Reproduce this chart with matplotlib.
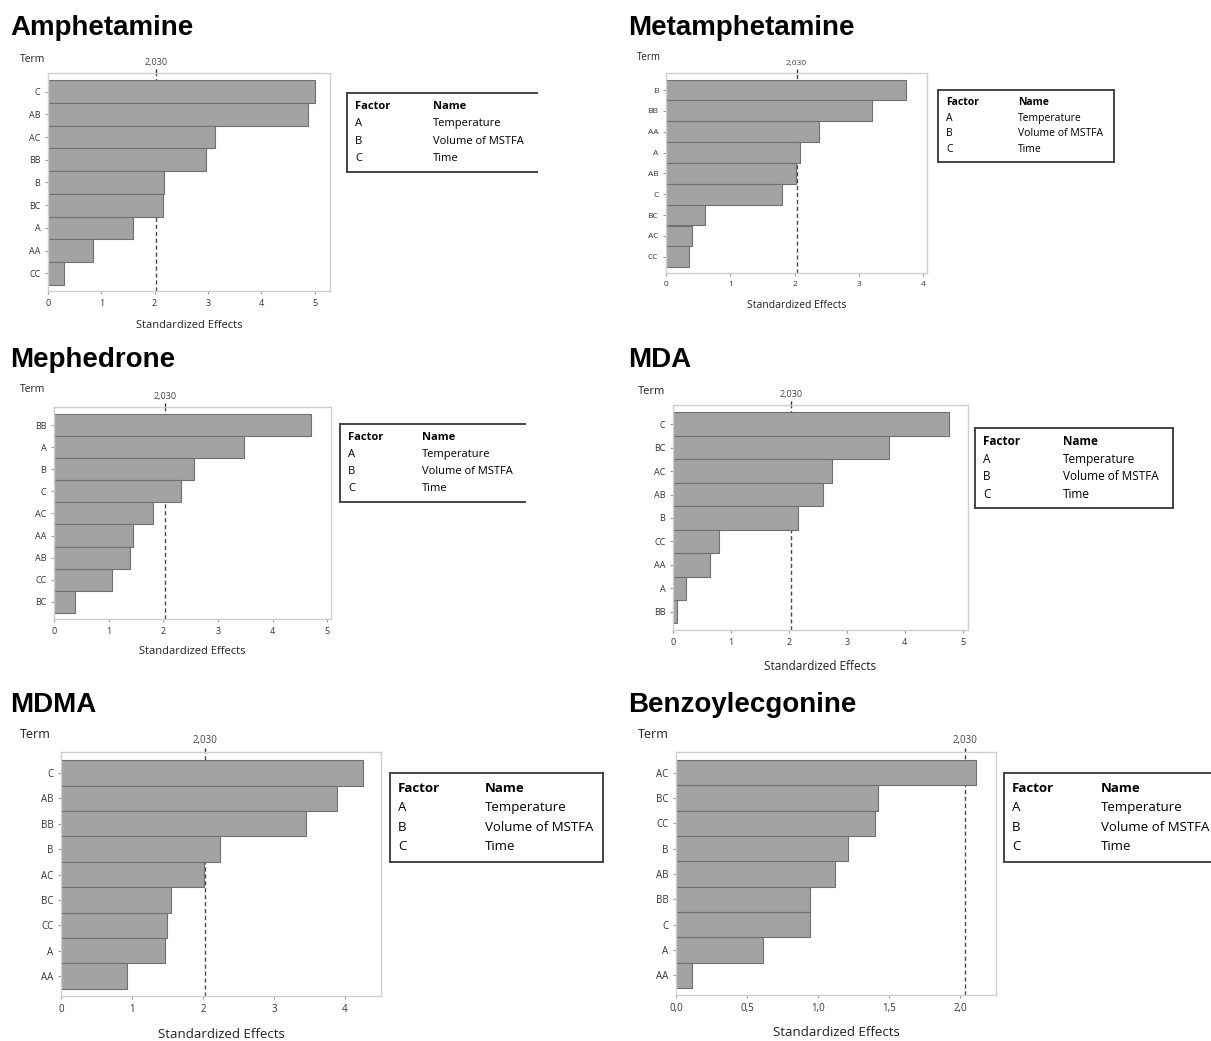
import matplotlib
matplotlib.use("Agg")
import matplotlib.pyplot as plt
from matplotlib.lines import Line2D
import numpy as np

W, H = 1211, 1041

# ---- data ----
critical = 2.03
critical_label = "2,030"
factor_codes = ["A", "B", "C"]
factor_names = ["Temperature", "Volume of MSTFA", "Time"]

amph_terms = ["C", "AB", "AC", "BB", "B", "BC", "A", "AA", "CC"]
amph_effects = [5.00, 4.87, 3.13, 2.96, 2.17, 2.15, 1.60, 0.84, 0.30]

meth_terms = ["B", "BB", "AA", "A", "AB", "C", "BC", "AC", "CC"]
meth_effects = [3.73, 3.20, 2.38, 2.08, 2.02, 1.80, 0.60, 0.40, 0.35]

meph_terms = ["BB", "A", "B", "C", "AC", "AA", "AB", "CC", "BC"]
meph_effects = [4.70, 3.47, 2.57, 2.32, 1.82, 1.45, 1.39, 1.06, 0.39]

mda_terms = ["C", "BC", "AC", "AB", "B", "CC", "AA", "A", "BB"]
mda_effects = [4.76, 3.73, 2.74, 2.59, 2.15, 0.80, 0.64, 0.22, 0.07]

mdma_terms = ["C", "AB", "BB", "B", "AC", "BC", "CC", "A", "AA"]
mdma_effects = [4.25, 3.89, 3.46, 2.24, 2.01, 1.55, 1.50, 1.46, 0.93]

bze_terms = ["AC", "BC", "CC", "B", "AB", "BB", "C", "A", "AA"]
bze_effects = [2.11, 1.42, 1.40, 1.21, 1.12, 0.94, 0.94, 0.61, 0.11]

int_ticks = [0, 1, 2, 3, 4, 5]
int_ticks4 = [0, 1, 2, 3, 4]
half_ticks = [0.0, 0.5, 1.0, 1.5, 2.0]
half_labels = ["0,0", "0,5", "1,0", "1,5", "2,0"]

# ---- layout in pixel coordinates of the 1211x1041 image ----
panels = [
    dict(title="Amphetamine", terms=amph_terms, effects=amph_effects,
         title_xy=(10, 28), term_xy=(20, 59), axes=(48, 73, 330, 291),
         xmax=5.29, ticks=int_ticks, labels=None, xlabel_y=325,
         legend=(347, 93, 537, 172, False), name_x=433, fs=8, tfs=6.5),
    dict(title="Metamphetamine", terms=meth_terms, effects=meth_effects,
         title_xy=(628, 28), term_xy=(637, 58), axes=(666, 73, 927, 273),
         xmax=4.06, ticks=int_ticks4, labels=None, xlabel_y=306,
         legend=(938, 90, 1114, 162, True), name_x=1018, fs=7.5, tfs=6),
    dict(title="Mephedrone", terms=meph_terms, effects=meph_effects,
         title_xy=(10, 360), term_xy=(20, 390), axes=(54, 407, 331, 619),
         xmax=5.07, ticks=int_ticks, labels=None, xlabel_y=651,
         legend=(340, 424, 525, 502, False), name_x=422, fs=8, tfs=6.5),
    dict(title="MDA", terms=mda_terms, effects=mda_effects,
         title_xy=(628, 360), term_xy=(638, 391), axes=(673, 405, 968, 630),
         xmax=5.09, ticks=int_ticks, labels=None, xlabel_y=667,
         legend=(975, 428, 1173, 508, True), name_x=1063, fs=8.5, tfs=6.5),
    dict(title="MDMA", terms=mdma_terms, effects=mdma_effects,
         title_xy=(10, 705), term_xy=(20, 735), axes=(61, 752, 381, 996),
         xmax=4.51, ticks=int_ticks4, labels=None, xlabel_y=1034,
         legend=(390, 773, 603, 862, True), name_x=485, fs=9.5, tfs=7),
    dict(title="Benzoylecgonine", terms=bze_terms, effects=bze_effects,
         title_xy=(628, 705), term_xy=(638, 735), axes=(676, 752, 996, 995),
         xmax=2.25, ticks=half_ticks, labels=half_labels, xlabel_y=1033,
         legend=(1004, 773, 1215, 862, True), name_x=1101, fs=9.5, tfs=7),
]

plt.rcParams["font.family"] = ["Open Sans", "DejaVu Sans"]

fig = plt.figure(figsize=(W / 100, H / 100), dpi=100)
fig.patch.set_facecolor("white")


def fx(x):
    return x / W


def fy(y):
    return 1 - y / H


def draw_panel(p):
    l, t, r, b = p["axes"]
    ax = fig.add_axes([fx(l), fy(b), (r - l) / W, (b - t) / H])
    n = len(p["terms"])
    pos = np.arange(n)
    ax.barh(pos, p["effects"], height=1.0, color="#a3a3a3",
            edgecolor="#6f6f6f", linewidth=0.8, zorder=2)
    ax.axvline(critical, color="#4a4a4a", linestyle=(0, (3, 2)),
               linewidth=1.0, zorder=1)
    ax.set_ylim(n - 0.5 + 0.28, -0.5 - 0.32)
    ax.set_xlim(0, p["xmax"])
    ax.set_yticks(pos, p["terms"])
    if p["labels"] is None:
        ax.set_xticks(p["ticks"])
    else:
        ax.set_xticks(p["ticks"], p["labels"])
    for s in ax.spines.values():
        s.set_color("#cfcfcf")
        s.set_linewidth(1.0)
    ax.tick_params(labelsize=p["tfs"], colors="#333333", length=2.5,
                   width=0.8, color="#9a9a9a", pad=3)

    top = ax.secondary_xaxis("top")
    top.set_xticks([critical], [critical_label])
    top.tick_params(labelsize=p["tfs"], colors="#444444", length=3,
                    width=1.0, color="#333333", pad=1.5)
    top.spines["top"].set_visible(False)

    # titles and axis captions
    tx, ty = p["title_xy"]
    fig.text(fx(tx), fy(ty), p["title"], fontsize=20, fontweight="bold",
             family="Liberation Sans", va="center", ha="left")
    mx, my = p["term_xy"]
    fig.text(fx(mx), fy(my), "Term", fontsize=p["fs"] - 0.5, va="center",
             ha="left", color="#222222")
    fig.text(fx((l + r) / 2), fy(p["xlabel_y"]), "Standardized Effects",
             fontsize=p["fs"], va="center", ha="center", color="#222222")

    # factor box
    bl, bt, br, bb, right_edge = p["legend"]
    kw = dict(color="#444444", linewidth=1.4, transform=fig.transFigure)
    fig.add_artist(Line2D([fx(bl), fx(br)], [fy(bt), fy(bt)], **kw))
    fig.add_artist(Line2D([fx(bl), fx(br)], [fy(bb), fy(bb)], **kw))
    fig.add_artist(Line2D([fx(bl), fx(bl)], [fy(bt), fy(bb)], **kw))
    if right_edge:
        fig.add_artist(Line2D([fx(br), fx(br)], [fy(bt), fy(bb)], **kw))
    step = (bb - bt) / 4.6
    y0 = bt + step * 0.8
    cx = bl + 8
    fig.text(fx(cx), fy(y0), "Factor", fontsize=p["fs"], fontweight="bold",
             va="center", ha="left")
    fig.text(fx(p["name_x"]), fy(y0), "Name", fontsize=p["fs"],
             fontweight="bold", va="center", ha="left")
    for i, (c, nm) in enumerate(zip(factor_codes, factor_names)):
        yy = y0 + step * (i + 1)
        fig.text(fx(cx), fy(yy), c, fontsize=p["fs"], va="center", ha="left")
        fig.text(fx(p["name_x"]), fy(yy), nm, fontsize=p["fs"], va="center",
                 ha="left")


for p in panels:
    draw_panel(p)

fig.savefig("out.png", dpi=100, facecolor="white")
